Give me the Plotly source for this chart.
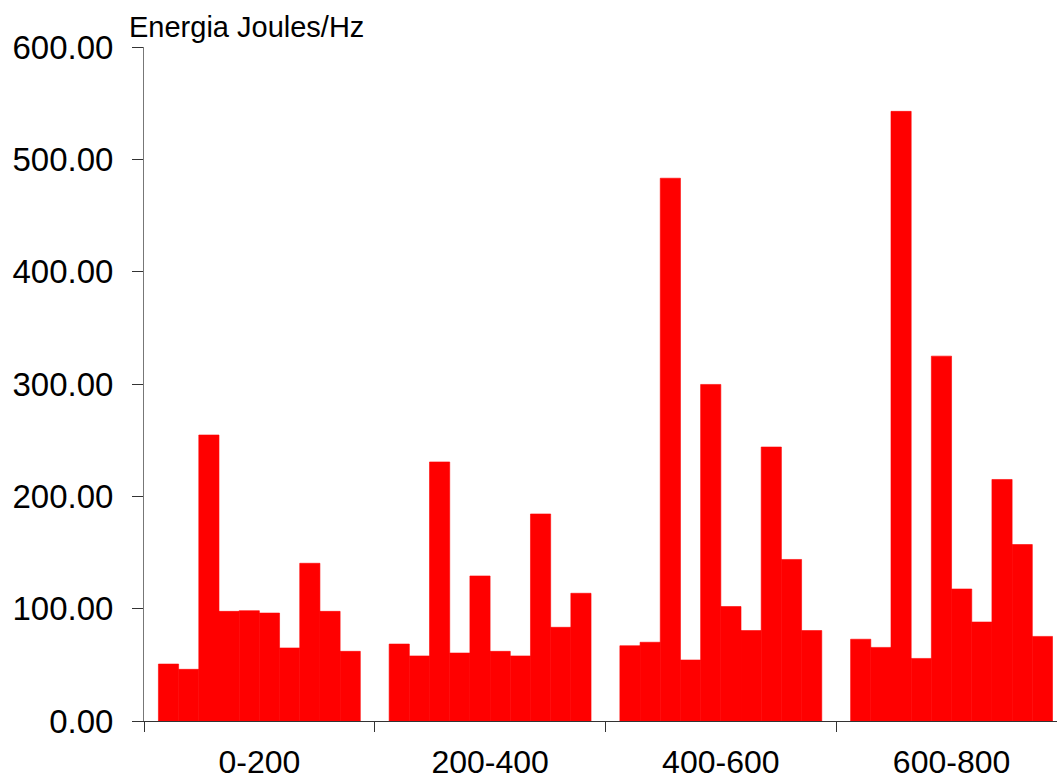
import plotly.graph_objects as go

categories = ["0-200", "200-400", "400-600", "600-800"]
band_names = [f"Banda {i}" for i in range(1, 11)]

# energy per sub-band (10 sub-bands in each frequency range)
values_0_200 = [50.7, 46.0, 254.6, 97.6, 98.2, 96.1, 65.0, 140.4, 97.6, 62.0]
values_200_400 = [68.5, 57.9, 230.6, 60.5, 129.1, 62.0, 57.9, 184.3, 83.4, 113.7]
values_400_600 = [67.0, 70.1, 483.2, 54.3, 299.6, 101.9, 80.5, 243.9, 143.8, 80.5]
values_600_800 = [72.8, 65.5, 542.7, 55.7, 324.8, 117.5, 88.1, 215.0, 157.1, 75.3]

groups = [values_0_200, values_200_400, values_400_600, values_600_800]

y_title = "Energia Joules/Hz"
y_tickvals = [0, 100, 200, 300, 400, 500, 600]

FONT = "Liberation Sans, Arial, Helvetica, sans-serif"

fig = go.Figure()
for i, name in enumerate(band_names):
    fig.add_trace(go.Bar(
        x=categories,
        y=[g[i] for g in groups],
        name=name,
        marker=dict(color="#FF0000", line=dict(width=0.6, color="#FF0000")),
        showlegend=False,
    ))

fig.update_layout(
    width=1057, height=783,
    barmode="group",
    bargap=0.125,
    bargroupgap=0,
    paper_bgcolor="white",
    plot_bgcolor="white",
    margin=dict(l=144, r=0, t=47, b=62),
    font=dict(family=FONT, color="black"),
    xaxis=dict(
        type="category",
        range=[-0.5, 3.457],
        automargin=False,
        showline=True, linecolor="#333333", linewidth=1,
        ticks="outside", tickson="boundaries", ticklen=10, tickcolor="#333333",
        tickfont=dict(size=32, family=FONT, color="black"),
        ticklabelstandoff=13,
        showgrid=False, zeroline=False,
    ),
    yaxis=dict(
        range=[0, 600],
        tickvals=y_tickvals,
        tickformat=".2f",
        automargin=False,
        showline=True, linecolor="#777777", linewidth=1,
        ticks="outside", ticklen=11, tickcolor="#333333",
        tickfont=dict(size=33, family=FONT, color="black"),
        ticklabelstandoff=12,
        showgrid=False, zeroline=False,
    ),
    annotations=[dict(
        text=y_title, xref="paper", yref="paper",
        x=-0.0186, y=1.0, xanchor="left", yanchor="bottom",
        yshift=2, showarrow=False,
        font=dict(size=29, family=FONT, color="black"),
    )],
)

fig.write_html(
    "out.html",
    config={"displayModeBar": False},
    post_script="document.body.style.margin='0';document.body.style.overflow='hidden';",
)
